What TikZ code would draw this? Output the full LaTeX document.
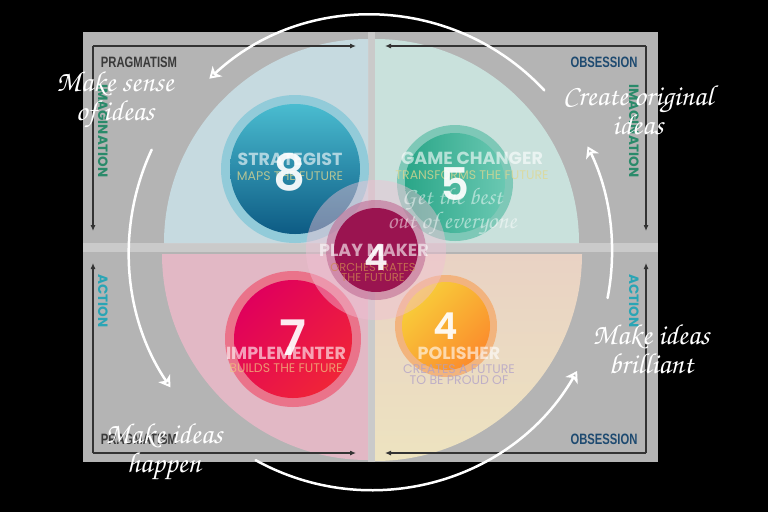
\documentclass[tikz,border=0pt]{standalone}
\usepackage{fontspec}
\setmainfont{Poppins}
\newfontfamily\numfont{Poppins SemiBold}
\newfontfamily\axisfont[FakeStretch=0.75]{Liberation Sans}
\newfontfamily\hand{TeX Gyre Chorus}
\usetikzlibrary{arrows.meta}
\newcommand\fsz[1]{\fontsize{#1}{#1}\selectfont}
\definecolor{panel}{HTML}{B4B4B4}
\definecolor{qtl}{HTML}{C6DAE0}
\definecolor{qtr}{HTML}{C9E1DC}
\definecolor{qbl}{HTML}{E2B8C5}
\definecolor{qbrtop}{HTML}{E9D2C4}
\definecolor{qbrbot}{HTML}{EDE3C0}
\definecolor{axisline}{HTML}{333333}
\definecolor{pragc}{HTML}{3A3A3A}
\definecolor{obsc}{HTML}{1E4A70}
\definecolor{imagc}{HTML}{2A8A6A}
\definecolor{actc}{HTML}{2AA5B5}
\definecolor{stTop}{HTML}{4ABCD0}
\definecolor{stBot}{HTML}{0D5B84}
\definecolor{stRing}{HTML}{86C8D8}
\definecolor{gcL}{HTML}{2AA688}
\definecolor{gcR}{HTML}{6AC8B2}
\definecolor{gcRing}{HTML}{6CC2AE}
\definecolor{imL}{HTML}{E0005C}
\definecolor{imR}{HTML}{F02438}
\definecolor{imRing}{HTML}{EC6880}
\definecolor{poL}{HTML}{F8CE3A}
\definecolor{poM}{HTML}{FAA032}
\definecolor{poR}{HTML}{FB8C2C}
\definecolor{poRing}{HTML}{F4AE72}
\definecolor{pmOuter}{HTML}{F0C0D4}
\definecolor{pmRing}{HTML}{C06C94}
\definecolor{pmIn}{HTML}{9A1450}
\definecolor{subYellow}{HTML}{E0D890}
\definecolor{subOrange}{HTML}{F0C080}
\definecolor{subBrown}{HTML}{D08850}
\definecolor{subLav}{HTML}{B0A0C8}
\tikzset{
  axisarrow/.style={draw=axisline, line width=1.1pt, -{Latex[length=6pt,width=5pt]}},
  axislabel/.style={font=\axisfont\bfseries\fsz{15}, inner sep=0pt},
  vlabel/.style={font=\bfseries\fsz{13.5}, inner sep=0pt, rotate=-90},
  rolename/.style={font=\bfseries\fsz{17.5}, text=white, text opacity=0.6, inner sep=0pt},
  roletag/.style={font=\fsz{12.5}, text opacity=0.75, inner sep=0pt, align=center},
  bignum/.style={text=white, text opacity=0.92, inner sep=0pt},
  cyclearc/.style={draw=white, line width=2.5pt, line cap=round, -{Stealth[open,length=11pt,width=14pt,inset=3pt,line width=2pt]}},
  handnote/.style={font=\hand\fsz{29}, text=white, align=center, inner sep=0pt}
}
\begin{document}
\begin{tikzpicture}[x=1pt,y=-1pt]
\fill[black] (0,0) rectangle (768,512);
\useasboundingbox (0,0) rectangle (768,512);
% panel
\fill[panel] (83,32) rectangle (658,462);
% quadrants
\begin{scope}
\clip (83,32) rectangle (658,462);
\fill[qtl] (368,243) -- ++(180:204pt) arc[start angle=180,end angle=90,radius=204pt] -- cycle;
\fill[qtr] (375,243) -- ++(90:204pt) arc[start angle=90,end angle=0,radius=204pt] -- cycle;
\fill[qbl] (368,254) -- ++(180:206pt) arc[start angle=180,end angle=270,radius=206pt] -- cycle;
\shade[top color=qbrtop,bottom color=qbrbot] (375,254) -- ++(270:207pt) arc[start angle=270,end angle=360,radius=207pt] -- cycle;
\end{scope}
% dividers
\fill[white,opacity=0.3] (368,32) rectangle (375,462);
\fill[white,opacity=0.3] (83,243) rectangle (658,252);
% circles
\coordinate (stc) at (295,169);
\coordinate (gcc) at (455,183);
\coordinate (imc) at (293,339);
\coordinate (poc) at (446,326);
\coordinate (pmc) at (376,250);
\fill[stRing,opacity=0.8] (stc) circle[radius=74pt];
\shade[top color=stTop,bottom color=stBot] (stc) circle[radius=65pt];
\fill[gcRing,opacity=0.8] (gcc) circle[radius=58pt];
\shade[left color=gcL,right color=gcR] (gcc) circle[radius=50pt];
\fill[imRing,opacity=0.85] (imc) circle[radius=68pt];
\shade[left color=imL,right color=imR,shading angle=45] (imc) circle[radius=59pt];
\fill[poRing,opacity=0.85] (poc) circle[radius=51pt];
\shade[left color=poL,middle color=poM,right color=poR,shading angle=45] (poc) circle[radius=44pt];
\fill[pmOuter,opacity=0.45] (pmc) circle[radius=70pt];
\fill[pmRing,opacity=0.6] (pmc) circle[radius=50pt];
\fill[pmIn] (pmc) circle[radius=42pt];
% role texts
\node[rolename] (stname) at (290,159) {STRATEGIST};
\node[roletag,text=subYellow] (sttag) at (290,176) {MAPS THE FUTURE};
\node[bignum,font=\numfont\fsz{50}] (stnum) at (290,172) {8};
\node[rolename] (gcname) at (472,158) {GAME CHANGER};
\node[roletag,text=subYellow] (gctag) at (472,175) {TRANSFORMS THE FUTURE};
\node[bignum,font=\numfont\fsz{45}] (gcnum) at (455,184) {5};
\node[rolename] (imname) at (286,353) {IMPLEMENTER};
\node[roletag,text=subOrange] (imtag) at (286,368) {BUILDS THE FUTURE};
\node[bignum,font=\numfont\fsz{49}] (imnum) at (293,338) {7};
\node[rolename] (poname) at (459,353) {POLISHER};
\node[roletag,text=subLav] (potag) at (459,374.5) {CREATES A FUTURE\\[-2pt]TO BE PROUD OF};
\node[bignum,font=\numfont\fsz{37}] (ponum) at (446,326) {4};
\node[rolename] (pmname) at (374,250) {PLAY MAKER};
\node[roletag,text=subBrown,font=\fsz{11.5}] (pmtag) at (373,272.5) {ORCHESTRATES\\[-2pt]THE FUTURE};
\node[bignum,font=\numfont\fsz{36}] (pmnum) at (376,258) {4};
% axes
\coordinate (tlc) at (93,46); \coordinate (tlr) at (356,46); \coordinate (tlb) at (93,231);
\coordinate (trc) at (646,46); \coordinate (trl) at (385,46); \coordinate (trb) at (646,231);
\coordinate (blc) at (93,453); \coordinate (blr) at (356,453); \coordinate (blt) at (93,263);
\coordinate (brc) at (646,453); \coordinate (brl) at (385,453); \coordinate (brt) at (646,263);
\draw[axisarrow] (tlc) -- (tlr); \draw[axisarrow] (tlc) -- (tlb);
\draw[axisarrow] (trc) -- (trl); \draw[axisarrow] (trc) -- (trb);
\draw[axisarrow] (blc) -- (blr); \draw[axisarrow] (blc) -- (blt);
\draw[axisarrow] (brc) -- (brl); \draw[axisarrow] (brc) -- (brt);
\node[axislabel,text=pragc] (prag1) at (139,62) {PRAGMATISM};
\node[axislabel,text=pragc] (prag2) at (139,439) {PRAGMATISM};
\node[axislabel,text=obsc] (obs1) at (604,62) {OBSESSION};
\node[axislabel,text=obsc] (obs2) at (604,439) {OBSESSION};
\node[vlabel,text=imagc] (imag1) at (103,131) {IMAGINATION};
\node[vlabel,text=imagc] (imag2) at (634,131) {IMAGINATION};
\node[vlabel,text=actc] (act1) at (103,301) {ACTION};
\node[vlabel,text=actc] (act2) at (634,301) {ACTION};
% cycle arcs
\coordinate (cc) at (371,252);
\draw[cyclearc] ([shift={(43:237pt)}]cc) arc[start angle=43,end angle=133,radius=237pt];
\draw[cyclearc] ([shift={(155:242pt)}]cc) arc[start angle=155,end angle=214,radius=242pt];
\draw[cyclearc] ([shift={(241:238pt)}]cc) arc[start angle=241,end angle=330,radius=238pt];
\draw[cyclearc] ([shift={(-11:241pt)}]cc) arc[start angle=-11,end angle=26,radius=241pt];
% handwritten notes
\node[handnote] (n1) at (115,100) {Make sense\\of ideas};
\node[handnote] (n2) at (638,110) {Create original\\ideas};
\node[handnote,text opacity=0.5,font=\hand\fsz{24}] (n3) at (452,211) {Get the best\\out of everyone};
\node[handnote] (n4) at (651,349) {Make ideas\\brilliant};
\node[handnote] (n5) at (164,452) {Make ideas\\happen};
\end{tikzpicture}
\end{document}
